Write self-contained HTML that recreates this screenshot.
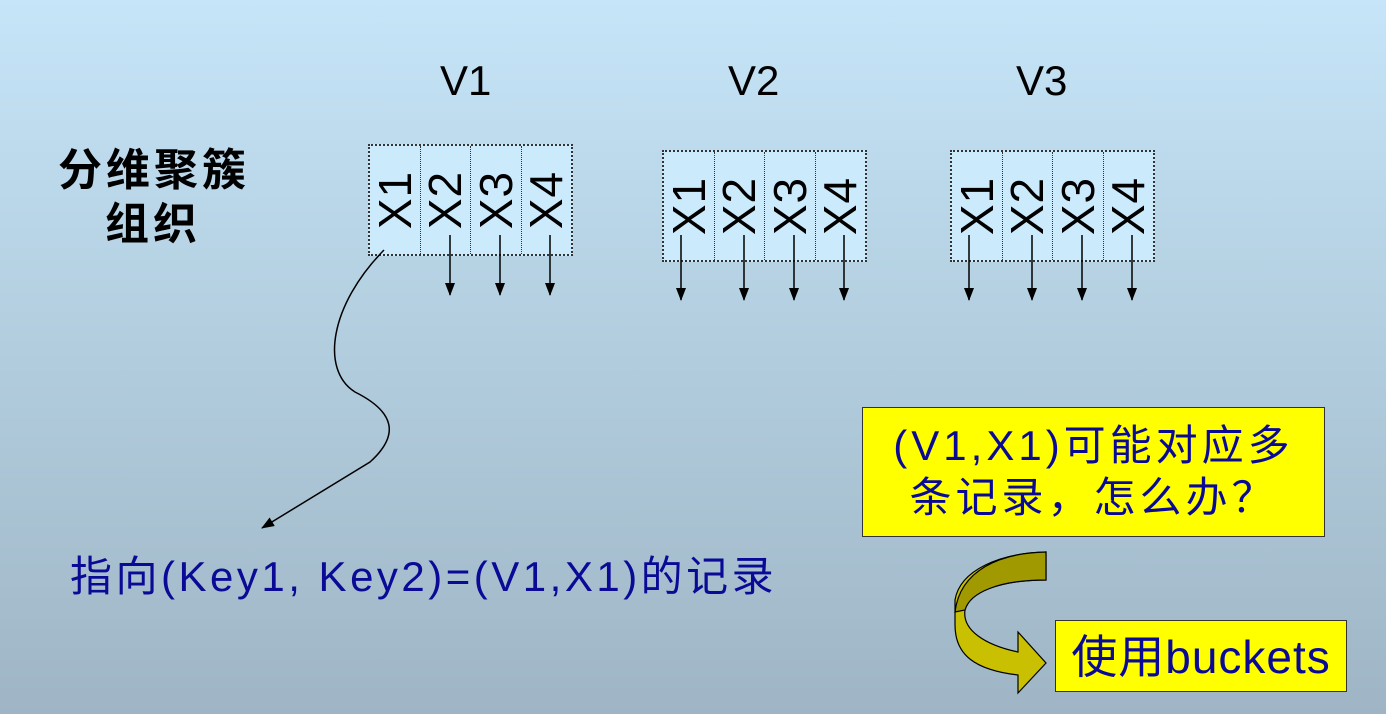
<!DOCTYPE html>
<html><head><meta charset="utf-8"><style>
body{margin:0}
#c{position:relative;width:1386px;height:714px;overflow:hidden;background:linear-gradient(180deg,#c6e5f8 0%,#b3cfe0 45%,#9fb5c5 100%);font-family:"Liberation Sans","Noto Sans CJK SC",sans-serif}
.t{position:absolute;white-space:nowrap}
.g{position:absolute;display:flex;border:2px dotted #333;background:#cbeafc}
.cell{width:50px;height:100%;border-right:1px dotted #333;position:relative}
.cell:last-child{border-right:none}
.cell span{position:absolute;left:50%;top:50%;transform:translate(-50%,-50%) rotate(-90deg);font-size:46px;color:#000;letter-spacing:1px}
</style></head><body><div id="c">
<div class="t" style="left:440px;top:57px;font-size:42px">V1</div>
<div class="t" style="left:728px;top:57px;font-size:42px">V2</div>
<div class="t" style="left:1016px;top:57px;font-size:42px">V3</div>
<div class="t" style="left:58px;top:144px;font-size:44px;font-weight:bold;line-height:54px;letter-spacing:4px">分维聚簇</div>
<div class="t" style="left:105px;top:198px;font-size:44px;font-weight:bold;line-height:54px;letter-spacing:4px">组织</div>

<div class="g" style="left:368px;top:144px;width:201px;height:108px"><div class="cell"><span>X1</span></div><div class="cell"><span>X2</span></div><div class="cell"><span>X3</span></div><div class="cell"><span>X4</span></div></div>
<div class="g" style="left:662px;top:150px;width:201px;height:108px"><div class="cell"><span>X1</span></div><div class="cell"><span>X2</span></div><div class="cell"><span>X3</span></div><div class="cell"><span>X4</span></div></div>
<div class="g" style="left:950px;top:150px;width:201px;height:108px"><div class="cell"><span>X1</span></div><div class="cell"><span>X2</span></div><div class="cell"><span>X3</span></div><div class="cell"><span>X4</span></div></div>

<svg style="position:absolute;left:0;top:0" width="1386" height="714">
<defs><marker id="a" markerWidth="14" markerHeight="12" refX="12" refY="6" orient="auto" markerUnits="userSpaceOnUse"><path d="M0,1 L13,6 L0,11z" fill="#000"/></marker></defs>
<g stroke="#000" stroke-width="1.5" marker-end="url(#a)">
<line x1="450" y1="235" x2="450" y2="295"/><line x1="500" y1="235" x2="500" y2="295"/><line x1="550" y1="235" x2="550" y2="295"/>
<line x1="681" y1="235" x2="681" y2="300"/><line x1="744" y1="235" x2="744" y2="300"/><line x1="794" y1="235" x2="794" y2="300"/><line x1="844" y1="235" x2="844" y2="300"/>
<line x1="969" y1="235" x2="969" y2="300"/><line x1="1032" y1="235" x2="1032" y2="300"/><line x1="1082" y1="235" x2="1082" y2="300"/><line x1="1132" y1="235" x2="1132" y2="300"/>
<path d="M384,250 C330,305 320,370 355,392 C395,412 400,435 370,462 L262,528" fill="none"/>
</g>
<path d="M1046,552 L1046,580 C1000,580 970,592 965,610 C962,630 985,645 1018,652 L1018,632 L1046,663 L1018,693 L1018,675 C975,670 955,655 955,625 L955,600 C960,570 1000,553 1046,552z" fill="#c8c000" stroke="#000" stroke-width="1.2"/>
<path d="M1046,552 L1046,580 C1000,580 970,592 965,610 L955,612 C960,570 1000,553 1046,552z" fill="#a09a00" stroke="#000" stroke-width="1.2"/>
</svg>

<div class="t" style="left:70px;top:543px;font-size:42px;letter-spacing:3.5px;color:#0a0a96">指向(Key1, Key2)=(V1,X1)的记录</div>
<div style="position:absolute;left:862px;top:407px;width:463px;height:130px;background:#ffff00;border:1.5px solid #333;color:#0a0a96;font-size:42px;letter-spacing:4px;text-align:center;line-height:52px;padding-top:12px;box-sizing:border-box">(V1,X1)可能对应多<br>条记录，怎么办？</div>
<div style="position:absolute;left:1055px;top:620px;width:292px;height:72px;background:#ffff00;border:1.5px solid #333;color:#0a0a96;font-size:46px;letter-spacing:1px;text-align:center;line-height:72px;box-sizing:border-box">使用buckets</div>
</div></body></html>
